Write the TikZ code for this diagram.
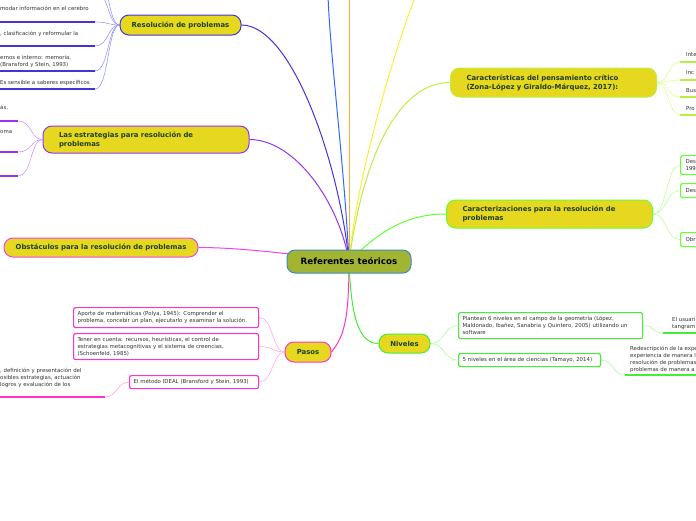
\documentclass[tikz,border=0pt]{standalone}
\usepackage{fontspec}
\setmainfont{DejaVu Sans}
\usetikzlibrary{backgrounds}

\definecolor{topicfill}{HTML}{E5D81E}
\definecolor{topictext}{HTML}{1F3F1F}
\definecolor{rootfill}{HTML}{A2B533}
\definecolor{rootline}{HTML}{3D8BC4}
\definecolor{leaftext}{HTML}{333333}
\definecolor{resline}{HTML}{4433DD}
\definecolor{resleaf}{HTML}{9999FF}
\definecolor{estline}{HTML}{9933EE}
\definecolor{estleaf}{HTML}{CC99FF}
\definecolor{obsline}{HTML}{EE44EE}
\definecolor{pasline}{HTML}{FF33CC}
\definecolor{pasleaf}{HTML}{FFAADD}
\definecolor{nivline}{HTML}{44EE33}
\definecolor{nivleaf}{HTML}{AAFF99}
\definecolor{carline}{HTML}{66FF33}
\definecolor{carleaf}{HTML}{BBFF99}
\definecolor{cpcline}{HTML}{BBEE44}
\definecolor{cpcleaf}{HTML}{DDFF88}
\definecolor{blueline}{HTML}{3366FF}
\definecolor{orangeline}{HTML}{FFAA33}
\definecolor{yellowline}{HTML}{FFEE33}

\tikzset{
  root/.style={draw=rootline, fill=rootfill, line width=1pt, rounded corners=8pt,
    font=\fontsize{8.7}{10}\selectfont\bfseries, minimum width=124pt, minimum height=23pt, inner sep=0pt},
  topic/.style={draw=#1, fill=topicfill, line width=1pt, rounded corners=9pt,
    font=\fontsize{6.9}{9}\selectfont\bfseries, text=topictext, inner sep=0pt},
  wide/.style={align=left, text width=174pt, inner xsep=16pt, inner ysep=0pt},
  leaf/.style={font=\fontsize{5.4}{7}\selectfont, text=leaftext, align=left, inner sep=0pt},
  leafbox/.style={leaf, draw=#1, fill=white, line width=1.2pt, rounded corners=2pt, inner xsep=4pt},
  branch/.style={line width=1pt},
  twig/.style={line width=0.6pt},
  uline/.style={line width=1.3pt}
}

\begin{document}
\begin{tikzpicture}[x=1pt, y=-1pt]
\useasboundingbox (0,0) rectangle (696,520);

% root and main topics
\node[root] (ref) at (349,261.5) {Referentes teóricos};
\node[topic=resline, minimum width=121pt, minimum height=20pt] (res) at (180.5,25) {Resolución de problemas};
\node[topic=estline, wide, minimum height=27pt] (est) at (146,139.5) {Las estrategias para resolución de\\problemas};
\node[topic=obsline, minimum width=194pt, minimum height=19pt] (obs) at (101,247.5) {Obstáculos para la resolución de problemas};
\node[topic=pasline, minimum width=46pt, minimum height=20pt] (pas) at (308,352) {Pasos};
\node[topic=nivline, minimum width=51pt, minimum height=19pt] (niv) at (404.5,343.5) {Niveles};
\node[topic=carline, wide, minimum height=28pt] (car) at (549.5,214) {Caracterizaciones para la resolución de\\problemas};
\node[topic=cpcline, wide, minimum height=29pt] (cpc) at (553.5,82.5) {Características del pensamiento crítico\\(Zona-López y Giraldo-Márquez, 2017):};

% Resolución de problemas
\node[leaf, anchor=north west] (r1) at (0,6) {modar información en el cerebro};
\node[leaf, anchor=north west] (r2) at (0,31) {, clasificación y reformular la};
\node[leaf, anchor=north west] (r3) at (0,55) {ernos e interno: memoria,\\(Bransford y Stein, 1993)};
\node[leaf, anchor=north west] (r4) at (0,80) {Es sensible a saberes específicos};
\coordinate (r0a) at (95,-30);
\coordinate (r0b) at (95,-8);
\coordinate (r1u) at (95,22);
\coordinate (r2u) at (95,46);
\coordinate (r3u) at (95,71);
\coordinate (r4u) at (95,89);
\foreach \u in {r1u,r2u,r3u,r4u}
  \draw[uline, resline] (\u) -- +(-100,0);

% Las estrategias
\node[leaf, anchor=north west] (e1) at (0,104.5) {ás,};
\node[leaf, anchor=north west] (e2) at (0,130) {oma};
\coordinate (e1u) at (18,121);
\coordinate (e2u) at (18,152);
\coordinate (e3u) at (18,176);
\foreach \u in {e1u,e2u,e3u}
  \draw[uline, estline] (\u) -- +(-25,0);

% Pasos
\node[leafbox=pasline, text width=177pt, minimum height=20pt, anchor=north west] (p1) at (73,307)
  {Aporte de matemáticas (Polya, 1945): Comprender el\\problema, concebir un plan, ejecutarlo y examinar la solución.};
\node[leafbox=pasline, text width=177pt, minimum height=26pt, anchor=north west] (p2) at (73,333)
  {Tener en cuenta: recursos, heurísticas, el control de\\estrategias metacognitivas y el sistema de creencias.\\(Schoenfeld, 1985)};
\node[leafbox=pasline, text width=121pt, minimum height=13pt, anchor=north west] (p3) at (129,375)
  {El método IDEAL (Bransford y Stein, 1993)};
\node[leaf, anchor=north west] (p3a) at (0,367.5) {, definición y presentación del\\osibles estrategias, actuación\\logros y evaluación de los};
\coordinate (p3u) at (105,397);
\draw[uline, pasline] (p3u) -- +(-110,0);

% Niveles
\node[leafbox=nivline, text width=176pt, minimum height=26pt, anchor=north west] (n1) at (458,312)
  {Plantean 6 niveles en el campo de la geometría (López,\\Maldonado, Ibañez, Sanabria y Quintero, 2005) utilizando un\\software};
\node[leafbox=nivline, text width=134pt, minimum height=13pt, anchor=north west] (n2) at (458,353)
  {5 niveles en el área de ciencias (Tamayo, 2014)};
\node[leaf, anchor=north west] (n1a) at (672,317) {El usuari\\tangram};
\node[leaf, anchor=north west] (n2a) at (630,345.5) {Redescripción de la expe\\experiencia de manera l\\resolución de problemas\\problemas de manera a};
\coordinate (n1u) at (663,333);
\coordinate (n2u) at (625,375);
\draw[uline, nivline] (n1u) -- +(40,0);
\draw[uline, nivline] (n2u) -- +(80,0);

% Características del pensamiento crítico
\node[leaf, anchor=west] (k1) at (686,55) {Inte};
\node[leaf, anchor=west] (k2) at (686,73) {Inc};
\node[leaf, anchor=west] (k3) at (686,91) {Bus};
\node[leaf, anchor=west] (k4) at (686,109) {Pro};
\coordinate (k1u) at (680,62);
\coordinate (k2u) at (680,80);
\coordinate (k3u) at (680,97);
\coordinate (k4u) at (680,115);
\foreach \u in {k1u,k2u,k3u,k4u}
  \draw[uline, cpcline] (\u) -- +(20,0);

% Caracterizaciones
\node[leafbox=carline, text width=24pt, minimum height=19pt, anchor=north west, inner xsep=5pt] (c1) at (680,155) {Des\\199};
\node[leafbox=carline, text width=24pt, minimum height=14pt, anchor=north west, inner xsep=5pt] (c2) at (680,183) {Des};
\node[leafbox=carline, text width=24pt, minimum height=14pt, anchor=north west, inner xsep=5pt] (c3) at (680,232) {Obr};

\begin{pgfonlayer}{background}
% main branches
\draw[branch, blueline] (ref.center) .. controls +(-5,-100) and +(2,60) .. (328,-5);
\draw[branch, orangeline] (ref.center) -- (349,-5);
\draw[branch, yellowline] (ref.center) .. controls +(8,-90) and +(-18,45) .. (416,-5);
\draw[branch, resline] (ref.center) .. controls +(-10,-100) and +(50,0) .. (res.east);
\draw[branch, estline] (ref.center) .. controls +(-10,-60) and +(45,0) .. (est.east);
\draw[branch, obsline] (ref.center) .. controls +(-60,-8) and +(40,0) .. (obs.east);
\draw[branch, pasline] (ref.center) .. controls +(0,60) and +(12,-15) .. (pas.east);
\draw[branch, nivline] (ref.center) .. controls +(2,55) and +(-20,0) .. (niv.west);
\draw[branch, carline] (ref.center) .. controls +(30,-30) and +(-40,0) .. (car.west);
\draw[branch, cpcline] (ref.center) .. controls +(15,-110) and +(-50,0) .. (cpc.west);
% twigs
\foreach \u in {r0a,r0b,r1u,r2u,r3u,r4u}
  \draw[twig, resleaf] (\u) .. controls +(14,0) and +(-12,0) .. (res.west);
\foreach \u in {e1u,e2u,e3u}
  \draw[twig, estleaf] (\u) .. controls +(14,0) and +(-12,0) .. (est.west);
\foreach \b in {p1,p2,p3}
  \draw[twig, pasleaf] (\b.east) .. controls +(14,0) and +(-12,0) .. (pas.west);
\draw[twig, pasleaf] (p3u) .. controls +(12,0) and +(-12,0) .. (p3.west);
\foreach \b in {n1,n2}
  \draw[twig, nivleaf] (niv.east) .. controls +(14,0) and +(-14,0) .. (\b.west);
\draw[twig, nivleaf] (n1.east) .. controls +(12,0) and +(-12,0) .. (n1u);
\draw[twig, nivleaf] (n2.east) .. controls +(12,0) and +(-12,0) .. (n2u);
\foreach \u in {k1u,k2u,k3u,k4u}
  \draw[twig, cpcleaf] (cpc.east) .. controls +(12,0) and +(-12,0) .. (\u);
\foreach \b in {c1,c2,c3}
  \draw[twig, carleaf] (car.east) .. controls +(14,0) and +(-14,0) .. (\b.west);
\end{pgfonlayer}
\end{tikzpicture}
\end{document}
